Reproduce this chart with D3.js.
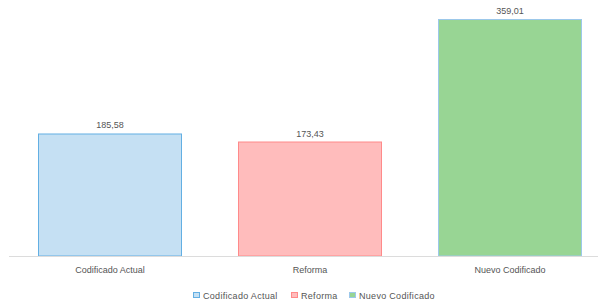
<!DOCTYPE html>
<html>
<head>
<meta charset="utf-8">
<script src="https://cdn.jsdelivr.net/npm/d3@7"></script>
<style>
  html, body { margin: 0; padding: 0; background: #fff; }
  svg { display: block; font-family: "Liberation Sans", Arial, sans-serif; }
</style>
</head>
<body>
<svg id="chart" width="598" height="304"></svg>
<script>
/* ── data ─────────────────────────────────────────── */
const categories = ["Codificado Actual", "Reforma", "Nuevo Codificado"];
const values     = [185.58, 173.43, 359.01];
const valueLabels = ["185,58", "173,43", "359,01"];
const fills   = ["#c5e0f3", "#ffbcbc", "#98d594"];
const strokes = ["#63afe3", "#ff8a8a", "#9cc8ea"];

/* ── scales ───────────────────────────────────────── */
const W = 598, H = 304;
const baseY = 256;

const x = d3.scaleBand()
  .domain(categories)
  .range([10, 610])
  .paddingInner(0.28)
  .paddingOuter(0.14);

const y = d3.scaleLinear()
  .domain([0, 359.01])
  .range([baseY, 19]);

const svg = d3.select("#chart");

/* ── bars ─────────────────────────────────────────── */
const rows = categories.map((c, i) => ({ c, v: values[i], lbl: valueLabels[i], i }));

svg.selectAll("rect.bar")
  .data(rows)
  .join("rect")
  .attr("class", "bar")
  .attr("x", d => x(d.c) + 0.5)
  .attr("y", d => y(d.v) + 0.5)
  .attr("width", x.bandwidth() - 1)
  .attr("height", d => baseY - y(d.v) - 0.5)
  .attr("fill", d => fills[d.i])
  .attr("stroke", d => strokes[d.i])
  .attr("stroke-width", 1);

/* ── axis line ────────────────────────────────────── */
svg.append("line")
  .attr("x1", 9).attr("x2", W)
  .attr("y1", baseY + 0.5).attr("y2", baseY + 0.5)
  .attr("stroke", "#dcdcdc")
  .attr("stroke-width", 1);

/* ── value labels ─────────────────────────────────── */
svg.selectAll("text.val")
  .data(rows)
  .join("text")
  .attr("class", "val")
  .attr("x", d => x(d.c) + x.bandwidth() / 2)
  .attr("y", d => y(d.v) - 5)
  .attr("text-anchor", "middle")
  .attr("font-size", 9)
  .attr("fill", "#555")
  .text(d => d.lbl);

/* ── category labels ──────────────────────────────── */
svg.selectAll("text.cat")
  .data(rows)
  .join("text")
  .attr("class", "cat")
  .attr("x", d => x(d.c) + x.bandwidth() / 2)
  .attr("y", 273)
  .attr("text-anchor", "middle")
  .attr("font-size", 9)
  .attr("fill", "#555")
  .text(d => d.c);

/* ── legend ───────────────────────────────────────── */
const legendX = [193, 291, 349];
const lg = svg.selectAll("g.leg")
  .data(rows)
  .join("g")
  .attr("class", "leg")
  .attr("transform", d => `translate(${legendX[d.i]},292)`);

lg.append("rect")
  .attr("x", 0.5).attr("y", 0.5)
  .attr("width", 6).attr("height", 5)
  .attr("fill", d => fills[d.i])
  .attr("stroke", d => strokes[d.i]);

lg.append("text")
  .attr("x", 10)
  .attr("y", 6.5)
  .attr("font-size", 9)
  .attr("letter-spacing", 0.3)
  .attr("fill", "#555")
  .text(d => d.c);
</script>
</body>
</html>
